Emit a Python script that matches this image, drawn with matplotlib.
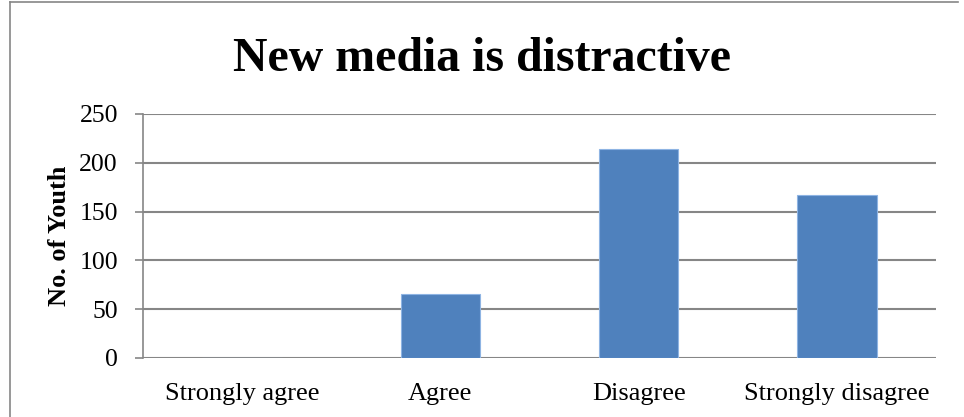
import matplotlib.pyplot as plt
from matplotlib.lines import Line2D

categories = ["Strongly agree", "Agree", "Disagree", "Strongly disagree"]
youth_counts = [0, 66, 214, 167]
y_ticks = [0, 50, 100, 150, 200, 250]

plt.rcParams["font.family"] = ["Liberation Serif", "DejaVu Serif"]

fig = plt.figure(figsize=(9.64, 4.17), dpi=100)
ax = fig.add_axes([143 / 964, 1 - 358 / 417, (936 - 143) / 964, (358 - 114) / 417])

x = range(len(categories))
ax.bar(x, youth_counts, width=0.4, color="#4F81BD", edgecolor="#8EB4E3", linewidth=0.8, zorder=3)

ax.set_xlim(-0.5, len(categories) - 0.5)
ax.set_ylim(0, 250)
ax.set_yticks(y_ticks)
ax.set_xticks(list(x))
ax.set_xticklabels(categories)
ax.grid(axis="y", color="#868686", linewidth=1.5, zorder=0)
ax.set_axisbelow(True)

for side in ["top", "right", "bottom"]:
    ax.spines[side].set_visible(False)
ax.spines["left"].set_color("#868686")
ax.spines["left"].set_linewidth(1.2)
ax.tick_params(axis="y", length=6, width=1.2, color="#868686", pad=12, labelsize=18.5)
ax.tick_params(axis="x", length=0, pad=18, labelsize=19)

ax.set_ylabel("No. of Youth", fontsize=19, fontweight="bold", labelpad=6)
fig.text(0.5, 1 - 71 / 417, "New media is distractive", ha="center", va="baseline",
         fontsize=34.5, fontweight="bold")

# outer chart frame
fig.add_artist(Line2D([10 / 964, 10 / 964], [0, 1 - 2 / 417], color="#868686", linewidth=1.2))
fig.add_artist(Line2D([10 / 964, 958 / 964], [1 - 2 / 417, 1 - 2 / 417], color="#868686", linewidth=1.2))

fig.savefig("out.png", dpi=100)
